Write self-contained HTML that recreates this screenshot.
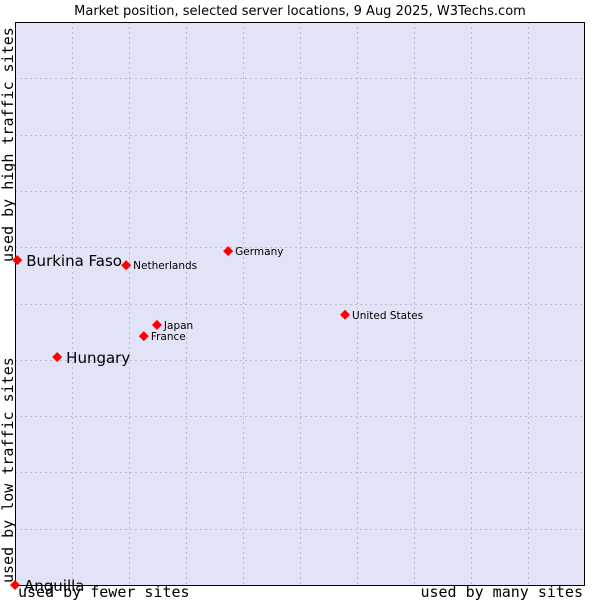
<!DOCTYPE html>
<html><head><meta charset="utf-8"><style>
body{margin:0;background:#fff;width:600px;height:600px;overflow:hidden}
svg{display:block}
.mono{font-family:"DejaVu Sans Mono","Liberation Mono",monospace;font-size:15px;fill:#000}
</style></head><body>
<svg id="chart" width="600" height="600">
<text x="300" y="15" text-anchor="middle" font-family="DejaVu Sans, Liberation Sans, sans-serif" font-size="13">Market position, selected server locations, 9 Aug 2025, W3Techs.com</text>
<rect x="15" y="22" width="570" height="563" fill="#e3e3f8"/>
<g id="grid"></g>
<line x1="15.5" y1="22" x2="15.5" y2="585" stroke="#000"/>
<line x1="15" y1="585.5" x2="585" y2="585.5" stroke="#000"/>
<line x1="15" y1="22.5" x2="585" y2="22.5" stroke="#000"/>
<line x1="584.5" y1="22" x2="584.5" y2="585" stroke="#000"/>
<g id="points"></g>
<text class="mono" x="18" y="597">used by fewer sites</text>
<text class="mono" x="583" y="597" text-anchor="end">used by many sites</text>
<text class="mono" transform="translate(13,583) rotate(-90)">used by low traffic sites</text>
<text class="mono" transform="translate(13,262) rotate(-90)">used by high traffic sites</text>
</svg>
<script>
const names=["Anguilla","Burkina Faso","Hungary","Netherlands","Germany","Japan","France","United States"];
const xVals=[0,0.4,7.4,19.5,37.4,24.9,22.6,57.9];
const yVals=[0,57.7,40.5,56.8,59.3,46.2,44.2,48.0];
const bigLabel=[true,true,true,false,false,false,false,false];
const gridTicks=[10,20,30,40,50,60,70,80,90];
const X0=15,X1=585,Y0=585,Y1=22;
const sx=v=>X0+(X1-X0)*v/100, sy=v=>Y0-(Y0-Y1)*v/100;
const NS="http://www.w3.org/2000/svg";
const grid=document.getElementById('grid'), pts=document.getElementById('points');
gridTicks.forEach(t=>{
 const a=document.createElementNS(NS,'line');
 a.setAttribute('x1',Math.round(sx(t))+0.5);a.setAttribute('x2',Math.round(sx(t))+0.5);a.setAttribute('y1',Y1);a.setAttribute('y2',Y0);
 a.setAttribute('stroke','#bdbdc8');a.setAttribute('stroke-dasharray','2,3');
 
 
 grid.appendChild(a);
 const b=document.createElementNS(NS,'line');
 b.setAttribute('y1',Math.round(sy(t))+0.5);b.setAttribute('y2',Math.round(sy(t))+0.5);b.setAttribute('x1',X0);b.setAttribute('x2',X1);
 b.setAttribute('stroke','#bdbdc8');b.setAttribute('stroke-dasharray','2,3');
 
 
 grid.appendChild(b);
});
names.forEach((n,i)=>{
 const x=sx(xVals[i]),y=sy(yVals[i]);
 const d=document.createElementNS(NS,'polygon');
 d.setAttribute('points',`${x},${y-5} ${x+5},${y} ${x},${y+5} ${x-5},${y}`);
 d.setAttribute('fill','#f00');
 
 
 pts.appendChild(d);
 const t=document.createElementNS(NS,'text');
 t.setAttribute('x',x+(bigLabel[i]?9:7));t.setAttribute('y',y+(bigLabel[i]?6:4));
 t.setAttribute('font-family','DejaVu Sans, Liberation Sans, sans-serif');
 t.setAttribute('font-size',bigLabel[i]?'15':'10.5');
 t.textContent=n;
 
 
 pts.appendChild(t);
});
</script>
</body></html>
